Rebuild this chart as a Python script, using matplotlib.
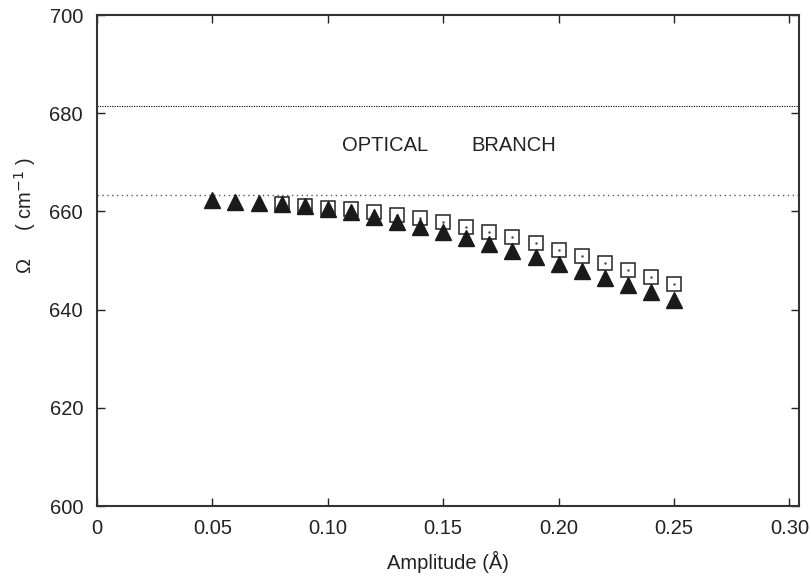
import matplotlib.pyplot as plt
import numpy as np

plt.rcParams['font.family'] = ['Liberation Sans', 'DejaVu Sans']

# amplitude (Angstrom) and frequency (cm^-1)
amp_tri = [0.05, 0.06, 0.07, 0.08, 0.09, 0.10, 0.11, 0.12, 0.13, 0.14, 0.15,
           0.16, 0.17, 0.18, 0.19, 0.20, 0.21, 0.22, 0.23, 0.24, 0.25]
freq_tri = [662.3, 662.0, 661.8, 661.5, 661.1, 660.6, 659.8, 658.8, 657.8, 656.8, 655.8,
            654.5, 653.3, 652.0, 650.7, 649.3, 647.9, 646.4, 645.0, 643.5, 642.0]

amp_sq = [0.08, 0.09, 0.10, 0.11, 0.12, 0.13, 0.14, 0.15, 0.16,
          0.17, 0.18, 0.19, 0.20, 0.21, 0.22, 0.23, 0.24, 0.25]
freq_sq = [661.6, 661.1, 660.8, 660.4, 659.9, 659.3, 658.7, 657.8, 656.9,
           655.9, 654.7, 653.5, 652.2, 650.9, 649.5, 648.1, 646.7, 645.3]

# optical branch limits
branch_top = 681.4
branch_bottom = 663.4

xticks = [0, 0.05, 0.10, 0.15, 0.20, 0.25, 0.30]
xtick_labels = ['0', '0.05', '0.10', '0.15', '0.20', '0.25', '0.30']
yticks = [600, 620, 640, 660, 680, 700]

fig = plt.figure(figsize=(8.11, 5.76), dpi=100)
ax = fig.add_axes([0.1196, 0.1215, 0.866, 0.8523])

ax.axhline(branch_top, color='black', lw=0.8, linestyle=(0, (1, 1.2)))
ax.axhline(branch_bottom, color='#555555', lw=1.0, linestyle=(0, (1, 2.5)))

ax.plot(amp_sq, freq_sq, linestyle='none', marker='s', markersize=10,
        markerfacecolor='white', markeredgecolor='#222222', markeredgewidth=1.1)
ax.plot(amp_sq, freq_sq, linestyle='none', marker='.', markersize=1.5, color='#444444')
ax.plot(amp_tri, freq_tri, linestyle='none', marker='^', markersize=11,
        color='#1a1a1a')

ax.text(0.1249, 673.4, 'OPTICAL', ha='center', va='center', fontsize=14.5, color='#222222')
ax.text(0.1804, 673.4, 'BRANCH', ha='center', va='center', fontsize=14.5, color='#222222')

ax.set_xlim(0, 0.3043)
ax.set_ylim(600, 700)
ax.set_xticks(xticks)
ax.set_xticklabels(xtick_labels)
ax.set_yticks(yticks)
ax.tick_params(direction='in', top=True, right=True, length=6, width=1,
               labelsize=14.5, colors='#222222')
ax.tick_params(axis='x', pad=9)
ax.tick_params(axis='y', pad=10)
for s in ax.spines.values():
    s.set_linewidth(1.5)
    s.set_color('#333333')

ax.set_xlabel('Amplitude (Å)', fontsize=14.5, color='#222222', labelpad=10)
ax.set_ylabel('Ω     ( cm$^{-1}$ )', fontsize=14.5, color='#222222')
ax.yaxis.set_label_coords(-0.084, 0.592)

fig.savefig('out.png', dpi=100)
